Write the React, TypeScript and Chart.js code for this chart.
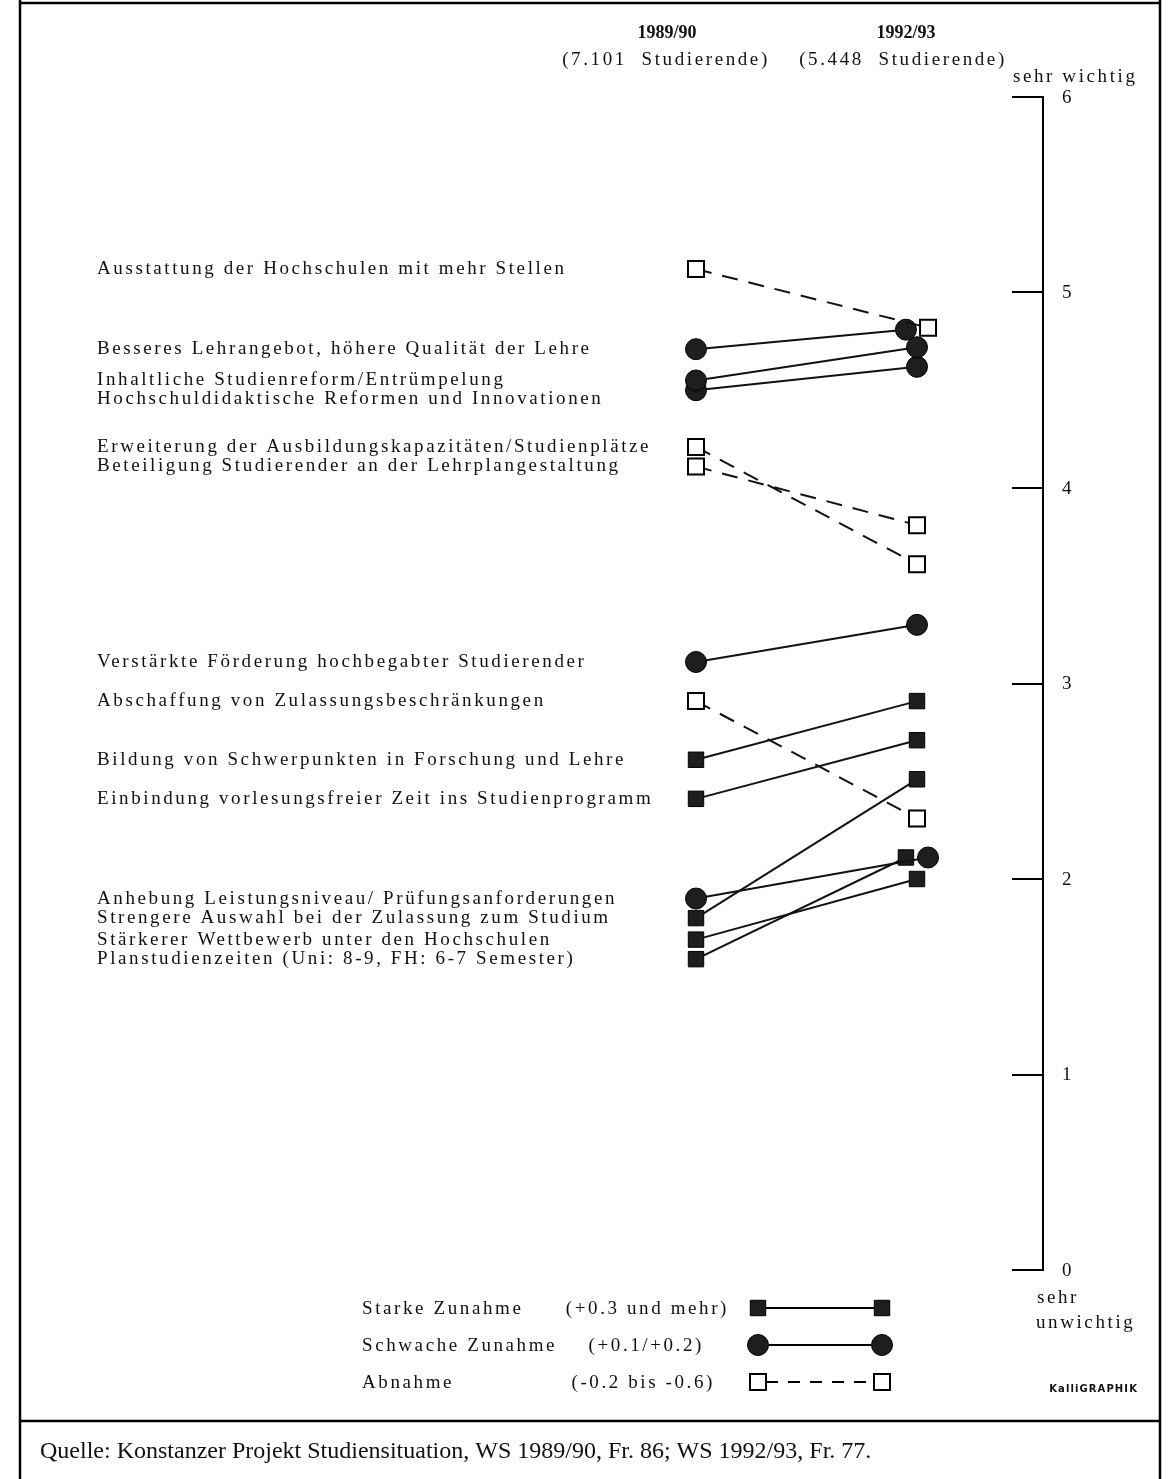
import React, { useEffect, useRef } from 'react';
import { Chart, registerables } from 'chart.js';

Chart.register(...registerables);

// ---------- data ----------
const surveyYears = ['1989/90', '1992/93'];
const cohortNotes = ['(7.101  Studierende)', '(5.448  Studierende)'];

const items = [
  'Ausstattung der Hochschulen mit mehr Stellen',
  'Besseres Lehrangebot, höhere Qualität der Lehre',
  'Inhaltliche Studienreform/Entrümpelung',
  'Hochschuldidaktische Reformen und Innovationen',
  'Erweiterung der Ausbildungskapazitäten/Studienplätze',
  'Beteiligung Studierender an der Lehrplangestaltung',
  'Verstärkte Förderung hochbegabter Studierender',
  'Abschaffung von Zulassungsbeschränkungen',
  'Bildung von Schwerpunkten in Forschung und Lehre',
  'Einbindung vorlesungsfreier Zeit ins Studienprogramm',
  'Anhebung Leistungsniveau/ Prüfungsanforderungen',
  'Strengere Auswahl bei der Zulassung zum Studium',
  'Stärkerer Wettbewerb unter den Hochschulen',
  'Planstudienzeiten (Uni: 8-9, FH: 6-7 Semester)',
];

const values1989 = [5.12, 4.71, 4.55, 4.50, 4.21, 4.11, 3.11, 2.91, 2.61, 2.41, 1.90, 1.80, 1.69, 1.59];
const values1992 = [4.82, 4.81, 4.72, 4.62, 3.61, 3.81, 3.30, 2.31, 2.91, 2.71, 2.11, 2.51, 2.00, 2.11];

// 'stark' = Starke Zunahme, 'schwach' = Schwache Zunahme, 'abnahme' = Abnahme
const categories = [
  'abnahme', 'schwach', 'schwach', 'schwach', 'abnahme', 'abnahme', 'schwach',
  'abnahme', 'stark', 'stark', 'schwach', 'stark', 'stark', 'stark',
];

const yTickValues = [0, 1, 2, 3, 4, 5, 6];
const axisTopLabel = 'sehr wichtig';
const axisBottomLabel = ['sehr', 'unwichtig'];

const legendCategories = ['stark', 'schwach', 'abnahme'];
const legendNames = ['Starke Zunahme', 'Schwache Zunahme', 'Abnahme'];
const legendRanges = ['(+0.3 und mehr)', '(+0.1/+0.2)', '(-0.2 bis -0.6)'];

const creditText = 'KalliGRAPHIK';
const sourceText = 'Quelle: Konstanzer Projekt Studiensituation, WS 1989/90, Fr. 86; WS 1992/93, Fr. 77.';

// ---------- layout / style ----------
const W = 1172;
const H = 1479;
const SERIF = '"Liberation Serif", "Times New Roman", Times, serif';
const INK = '#111';
const FILL = '#1e1e1e';
const X_MIN = -3;
const X_MAX = 2;
const AXIS_AT = 1.57;
const DODGE = 0.05;
const LABEL_GAP = 19;

const endX = values1992.map((v, i) => {
  const j = values1992.findIndex(
    (w, k) => k !== i && Math.abs(w - v) < 0.05 && categories[k] !== categories[i]
  );
  if (j < 0) return 1;
  return values1989[i] > values1989[j] ? 1 + DODGE : 1 - DODGE;
});

function styleFor(cat: string) {
  if (cat === 'stark') {
    return { pointStyle: 'rect', radius: 10.9, bg: FILL, bw: 1, dash: [] as number[] };
  }
  if (cat === 'schwach') {
    return { pointStyle: 'circle', radius: 10.5, bg: FILL, bw: 1, dash: [] as number[] };
  }
  return { pointStyle: 'rect', radius: 11.3, bg: '#fff', bw: 2, dash: [16, 11] };
}

function drawMarker(ctx: CanvasRenderingContext2D, cat: string, cx: number, cy: number) {
  const s = styleFor(cat);
  ctx.save();
  ctx.setLineDash([]);
  ctx.lineWidth = s.bw;
  ctx.strokeStyle = '#000';
  ctx.fillStyle = s.bg;
  ctx.beginPath();
  if (s.pointStyle === 'circle') {
    ctx.arc(cx, cy, s.radius, 0, Math.PI * 2);
  } else {
    const h = s.radius * Math.SQRT1_2;
    ctx.rect(cx - h, cy - h, 2 * h, 2 * h);
  }
  ctx.fill();
  ctx.stroke();
  ctx.restore();
}

function text(
  ctx: CanvasRenderingContext2D,
  str: string,
  x: number,
  y: number,
  font: string,
  align: CanvasTextAlign = 'left',
  spacing = '0px'
) {
  ctx.save();
  ctx.font = font;
  (ctx as any).letterSpacing = spacing;
  ctx.fillStyle = INK;
  ctx.textAlign = align;
  ctx.textBaseline = 'middle';
  ctx.fillText(str, x, y);
  ctx.restore();
}

const extrasPlugin = {
  id: 'extras',
  beforeDraw(chart: any) {
    const ctx: CanvasRenderingContext2D = chart.ctx;
    ctx.save();
    ctx.fillStyle = '#fff';
    ctx.fillRect(0, 0, chart.width, chart.height);
    ctx.restore();
  },
  afterDraw(chart: any) {
    const ctx: CanvasRenderingContext2D = chart.ctx;
    const xs = chart.scales.x;
    const ys = chart.scales.y;
    const col0 = xs.getPixelForValue(0);
    const col1 = xs.getPixelForValue(1);
    const axisX = xs.getPixelForValue(AXIS_AT);
    const labelFont = `19px ${SERIF}`;
    const LS = '2.6px';

    // frame
    ctx.save();
    ctx.strokeStyle = '#000';
    ctx.lineWidth = 2.5;
    ctx.beginPath();
    ctx.moveTo(20, 3);
    ctx.lineTo(1160, 3);
    ctx.moveTo(20, 0);
    ctx.lineTo(20, H);
    ctx.moveTo(1160, 0);
    ctx.lineTo(1160, H);
    ctx.moveTo(20, 1421);
    ctx.lineTo(1160, 1421);
    ctx.stroke();
    ctx.restore();

    // y tick labels (scale ticks, placed to the right of the axis line)
    ys.ticks.forEach((t: any) => {
      const py = ys.getPixelForValue(t.value);
      text(ctx, String(t.value), axisX + 19, py + 1, `19px ${SERIF}`, 'left');
    });

    // column headers
    text(ctx, surveyYears[0], col0 - 29, 33, `bold 18px ${SERIF}`, 'center');
    text(ctx, surveyYears[1], col1 - 11, 33, `bold 18px ${SERIF}`, 'center');
    text(ctx, cohortNotes[0], col0 - 30, 60, `19px ${SERIF}`, 'center', '2.6px');
    text(ctx, cohortNotes[1], col1 - 14, 60, `19px ${SERIF}`, 'center', '2.6px');

    // axis end captions
    text(ctx, axisTopLabel, axisX - 30, 77, labelFont, 'left', LS);
    text(ctx, axisBottomLabel[0], axisX - 6, 1298, labelFont, 'left', LS);
    text(ctx, axisBottomLabel[1], axisX - 7, 1323, labelFont, 'left', LS);

    // item labels
    const py = values1989.map((v) => ys.getPixelForValue(v));
    const order = py.map((_, i) => i).sort((a, b) => py[a] - py[b]);
    const ly: number[] = [];
    let prev = -Infinity;
    order.forEach((i) => {
      const yy = Math.max(py[i], prev + LABEL_GAP);
      ly[i] = yy;
      prev = yy;
    });
    items.forEach((lab, i) => {
      text(ctx, lab, col0 - 599, ly[i], labelFont, 'left', LS);
    });

    // legend
    const legendY = [1308, 1345, 1382];
    const rangeEnd = [729, 704, 715];
    legendCategories.forEach((cat, r) => {
      const yy = legendY[r];
      text(ctx, legendNames[r], 362, yy + 1, labelFont, 'left', LS);
      text(ctx, legendRanges[r], rangeEnd[r], yy + 1, labelFont, 'right', LS);
      const a = 758;
      const b = 882;
      const s = styleFor(cat);
      ctx.save();
      ctx.strokeStyle = '#000';
      ctx.lineWidth = 2;
      ctx.setLineDash(s.dash.length ? [12, 10] : []);
      ctx.beginPath();
      ctx.moveTo(a + 8, yy);
      ctx.lineTo(b - 8, yy);
      ctx.stroke();
      ctx.restore();
      drawMarker(ctx, cat, a, yy);
      drawMarker(ctx, cat, b, yy);
    });

    text(ctx, creditText, 1138, 1389, `bold 10px "DejaVu Sans", sans-serif`, 'right', '1.1px');

    // source line
    text(ctx, sourceText, 40, 1452, `24px ${SERIF}`, 'left');
  },
};

export default function App() {
  const ref = useRef<HTMLCanvasElement | null>(null);

  useEffect(() => {
    if (!ref.current) return;
    const datasets = items.map((label, i) => {
      const s = styleFor(categories[i]);
      return {
        label,
        data: [
          { x: 0, y: values1989[i] },
          { x: endX[i], y: values1992[i] },
        ],
        borderColor: INK,
        borderWidth: 2,
        borderDash: s.dash,
        pointStyle: s.pointStyle,
        pointRadius: s.radius,
        pointBackgroundColor: s.bg,
        pointBorderColor: '#000',
        pointBorderWidth: s.bw,
        showLine: true,
        fill: false,
        tension: 0,
      };
    });

    const chart = new Chart(ref.current, {
      type: 'line',
      data: { datasets: datasets as any },
      options: {
        animation: false,
        responsive: false,
        devicePixelRatio: 1,
        events: [],
        layout: { padding: { left: 33, right: 34, top: 97, bottom: 209 } },
        plugins: { legend: { display: false }, tooltip: { enabled: false } },
        scales: {
          x: { type: 'linear', min: X_MIN, max: X_MAX, display: false },
          y: {
            type: 'linear',
            min: 0,
            max: 6,
            position: { x: AXIS_AT } as any,
            afterBuildTicks: (scale: any) => {
              scale.ticks = yTickValues.map((v) => ({ value: v }));
            },
            ticks: {
              stepSize: 1,
              color: 'rgba(0,0,0,0)',
              padding: 0,
              font: { family: SERIF, size: 19 },
            },
            grid: {
              drawOnChartArea: false,
              drawTicks: true,
              tickLength: 30,
              color: '#000',
              lineWidth: 2,
            },
            border: { display: true, color: '#000', width: 2 },
          },
        },
      },
      plugins: [extrasPlugin],
    });
    return () => chart.destroy();
  }, []);

  return (
    <div style={{ position: 'absolute', left: 0, top: 0, width: W, height: H, background: '#fff' }}>
      <canvas ref={ref} width={W} height={H} style={{ display: 'block', width: W, height: H }} />
    </div>
  );
}
